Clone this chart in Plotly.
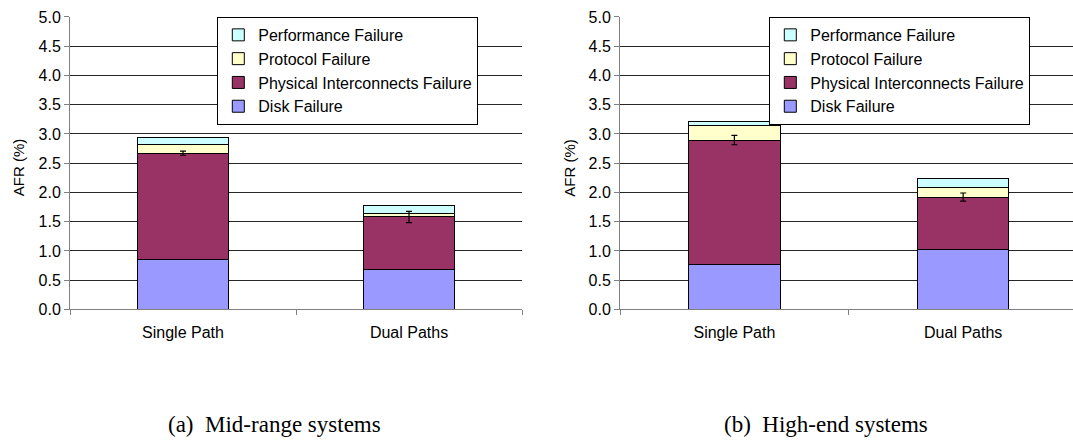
import plotly.graph_objects as go

# Path configurations on the x axis
categories = ["Single Path", "Dual Paths"]

# Mid-range systems: AFR (%) contribution of each failure type
mid_disk = [0.86, 0.68]
mid_phys = [1.81, 0.90]
mid_proto = [0.15, 0.065]
mid_perf = [0.12, 0.13]
mid_err = [0.035, 0.095]

# High-end systems
high_disk = [0.76, 1.02]
high_phys = [2.135, 0.90]
high_proto = [0.255, 0.16]
high_perf = [0.07, 0.16]
high_err = [0.08, 0.07]

series_names = ["Disk Failure", "Physical Interconnects Failure",
                "Protocol Failure", "Performance Failure"]
series_colors = ["#9999FF", "#993366", "#FFFFCC", "#CCFFFF"]

y_ticks = [0.0, 0.5, 1.0, 1.5, 2.0, 2.5, 3.0, 3.5, 4.0, 4.5, 5.0]

W, H = 1073, 447
SANS = "Liberation Sans, Arial, sans-serif"
SERIF = "Liberation Serif, Times New Roman, serif"

fig = go.Figure()


def add_panel(xref, yref, legend, stacks, err):
    for name, color, vals in zip(series_names, series_colors, stacks):
        fig.add_trace(go.Bar(
            x=categories, y=vals, name=name,
            marker=dict(color=color, line=dict(color="#000000", width=1)),
            xaxis=xref, yaxis=yref, legend=legend,
        ))
    # error bars sit on top of the disk + physical interconnect stack
    tops = [d + p for d, p in zip(stacks[0], stacks[1])]
    fig.add_trace(go.Scatter(
        x=categories, y=tops, mode="markers",
        marker=dict(size=1, color="rgba(0,0,0,0)"),
        error_y=dict(type="data", array=err, visible=True,
                     color="#000000", thickness=1.2, width=3),
        showlegend=False, hoverinfo="skip",
        xaxis=xref, yaxis=yref,
    ))


add_panel("x", "y", "legend", [mid_disk, mid_phys, mid_proto, mid_perf], mid_err)
add_panel("x2", "y2", "legend2", [high_disk, high_phys, high_proto, high_perf], high_err)

y_top = 1 - 9.3 / H
y_bot = 1 - 313.3 / H

yaxis_style = dict(
    range=[0, 5], tickvals=y_ticks, tickformat=".1f",
    showgrid=True, gridcolor="#262626", gridwidth=1,
    showline=True, linecolor="#808080", linewidth=1,
    ticks="outside", ticklen=5, tickcolor="#808080",
    tickfont=dict(family=SANS, size=16, color="#000000"),
    zeroline=False, domain=[y_bot, y_top],
)
xaxis_style = dict(
    type="category", tickson="boundaries",
    showline=True, linecolor="#808080", linewidth=1,
    ticks="outside", ticklen=5, tickcolor="#808080",
    ticklabelstandoff=8,
    tickfont=dict(family=SANS, size=16, color="#000000"),
    showgrid=False, zeroline=False,
)

legend_style = dict(
    traceorder="reversed", bgcolor="#FFFFFF",
    bordercolor="#000000", borderwidth=1,
    font=dict(family=SANS, size=16, color="#000000"),
    xanchor="left", yanchor="top", y=y_top,
    itemclick=False,
)

fig.update_layout(
    width=W, height=H,
    margin=dict(l=0, r=0, t=0, b=0),
    paper_bgcolor="#FFFFFF", plot_bgcolor="#FFFFFF",
    barmode="stack", bargap=0.6,
    xaxis=dict(xaxis_style, domain=[70 / W, 522 / W], range=[-0.5, 1.5], anchor="y"),
    yaxis=dict(yaxis_style, anchor="x"),
    xaxis2=dict(xaxis_style, domain=[620 / W, 1.0], range=[-0.5, 1.48], anchor="y2"),
    yaxis2=dict(yaxis_style, anchor="x2"),
    legend=dict(legend_style, x=217.3 / W),
    legend2=dict(legend_style, x=769.3 / W),
    annotations=[
        dict(text="AFR (%)", textangle=-90, x=18.5 / W, y=1 - 166 / H,
             xref="paper", yref="paper", showarrow=False,
             xanchor="center", yanchor="middle",
             font=dict(family=SANS, size=15, color="#000000")),
        dict(text="AFR (%)", textangle=-90, x=570 / W, y=1 - 166 / H,
             xref="paper", yref="paper", showarrow=False,
             xanchor="center", yanchor="middle",
             font=dict(family=SANS, size=15, color="#000000")),
        dict(text="(a)  Mid-range systems", x=274 / W, y=1 - 433 / H,
             xref="paper", yref="paper", showarrow=False,
             xanchor="center", yanchor="middle",
             font=dict(family=SERIF, size=23, color="#000000")),
        dict(text="(b)  High-end systems", x=826 / W, y=1 - 433 / H,
             xref="paper", yref="paper", showarrow=False,
             xanchor="center", yanchor="middle",
             font=dict(family=SERIF, size=23, color="#000000")),
    ],
)

fig.write_html("out.html")
